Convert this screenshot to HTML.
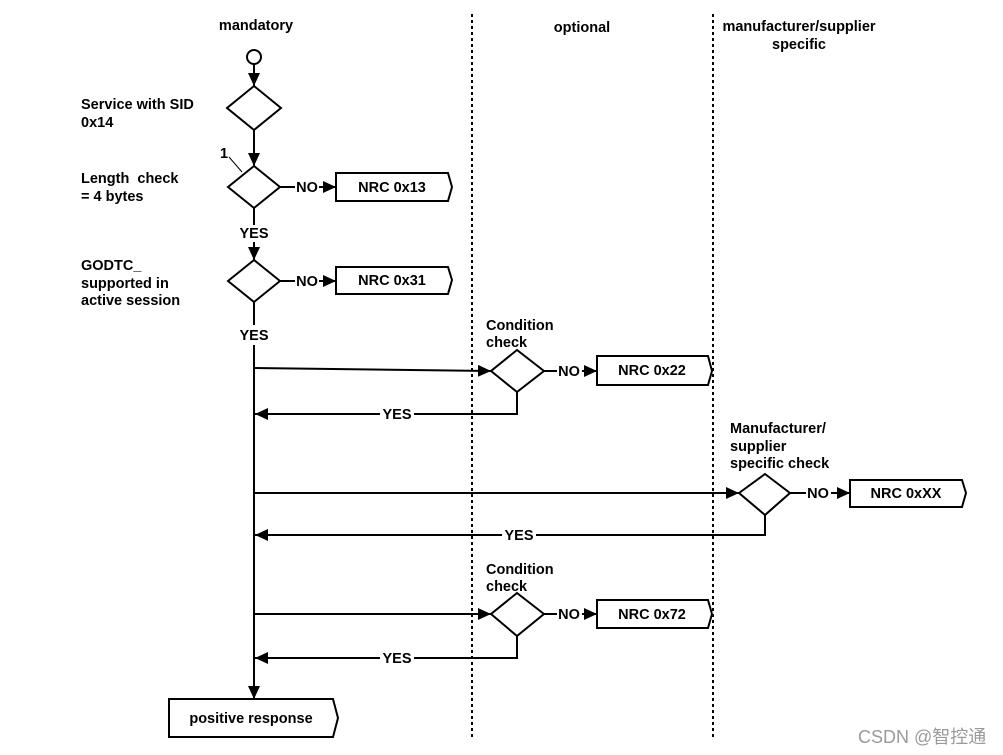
<!DOCTYPE html>
<html><head><meta charset="utf-8"><style>
html,body{margin:0;padding:0;background:#fff;}
svg{display:block;}
text{font-family:"Liberation Sans",Arial,sans-serif;font-weight:bold;font-size:14.5px;fill:#000;}
</style></head><body>
<svg width="1003" height="755" viewBox="0 0 1003 755" xmlns="http://www.w3.org/2000/svg">
<defs>
<marker id="b" markerWidth="14" markerHeight="14" refX="13" refY="6" orient="auto" markerUnits="userSpaceOnUse">
<path d="M0,0 L13,6 L0,12 z" fill="#000"/></marker>
</defs>
<g stroke="#000" stroke-width="2" fill="none">
<line x1="472" y1="14" x2="472" y2="737" stroke-dasharray="3,3" stroke-width="2"/>
<line x1="713" y1="14" x2="713" y2="737" stroke-dasharray="3,3" stroke-width="2"/>
<circle cx="254" cy="57" r="7" fill="#fff"/>
<line x1="254" y1="64" x2="254" y2="86" marker-end="url(#b)"/>
<polygon points="254,86 281,108 254,130 227,108" fill="#fff"/>
<line x1="254" y1="130" x2="254" y2="166" marker-end="url(#b)"/>
<polygon points="254,166 280,187 254,208 228,187" fill="#fff"/>
<line x1="254" y1="208" x2="254" y2="225"/>
<line x1="254" y1="242" x2="254" y2="260" marker-end="url(#b)"/>
<polygon points="254,260 280,281 254,302 228,281" fill="#fff"/>
<line x1="254" y1="302" x2="254" y2="325"/>
<line x1="254" y1="345" x2="254" y2="699" marker-end="url(#b)"/>
<line x1="280" y1="187" x2="295" y2="187"/>
<line x1="319" y1="187" x2="336" y2="187" marker-end="url(#b)"/>
<polygon points="336,173 448,173 452,187 448,201 336,201"/>
<line x1="280" y1="281" x2="295" y2="281"/>
<line x1="319" y1="281" x2="336" y2="281" marker-end="url(#b)"/>
<polygon points="336,267 448,267 452,280 448,294 336,294"/>
<line x1="229" y1="157" x2="242" y2="172" stroke-width="1"/>
<line x1="254" y1="368" x2="491" y2="371" marker-end="url(#b)"/>
<polygon points="517,350 544,371 517,392 491,371" fill="#fff"/>
<line x1="544" y1="371" x2="557" y2="371"/>
<line x1="582" y1="371" x2="597" y2="371" marker-end="url(#b)"/>
<polygon points="597,356 708,356 712,371 708,385 597,385"/>
<polyline points="517,392 517,414 414,414"/>
<line x1="380" y1="414" x2="255" y2="414" marker-end="url(#b)"/>
<line x1="254" y1="493" x2="739" y2="493" marker-end="url(#b)"/>
<polygon points="765,474 790,493 765,515 739,493" fill="#fff"/>
<line x1="790" y1="493" x2="806" y2="493"/>
<line x1="831" y1="493" x2="850" y2="493" marker-end="url(#b)"/>
<polygon points="850,480 962,480 966,493 962,507 850,507"/>
<polyline points="765,515 765,535 536,535"/>
<line x1="502" y1="535" x2="255" y2="535" marker-end="url(#b)"/>
<line x1="254" y1="614" x2="491" y2="614" marker-end="url(#b)"/>
<polygon points="517,593 544,614 517,636 491,614" fill="#fff"/>
<line x1="544" y1="614" x2="557" y2="614"/>
<line x1="582" y1="614" x2="597" y2="614" marker-end="url(#b)"/>
<polygon points="597,600 708,600 712,614 708,628 597,628"/>
<polyline points="517,636 517,658 414,658"/>
<line x1="380" y1="658" x2="255" y2="658" marker-end="url(#b)"/>
<polygon points="169,699 333,699 338,718 333,737 169,737"/>
</g>
<text x="256" y="30" text-anchor="middle">mandatory</text>
<text x="582" y="32" text-anchor="middle">optional</text>
<text x="799" y="31" text-anchor="middle">manufacturer/supplier</text>
<text x="799" y="49" text-anchor="middle">specific</text>
<text x="81" y="109">Service with SID</text>
<text x="81" y="127">0x14</text>
<text x="81" y="183" xml:space="preserve">Length  check</text>
<text x="81" y="201">= 4 bytes</text>
<text x="81" y="270">GODTC_</text>
<text x="81" y="288">supported in</text>
<text x="81" y="305">active session</text>
<text x="220" y="158" font-size="15">1</text>
<text x="307" y="192" text-anchor="middle">NO</text>
<text x="392" y="192" text-anchor="middle">NRC 0x13</text>
<text x="254" y="238" text-anchor="middle">YES</text>
<text x="307" y="286" text-anchor="middle">NO</text>
<text x="392" y="285" text-anchor="middle">NRC 0x31</text>
<text x="254" y="340" text-anchor="middle">YES</text>
<text x="486" y="330">Condition</text>
<text x="486" y="347">check</text>
<text x="569" y="376" text-anchor="middle">NO</text>
<text x="652" y="375" text-anchor="middle">NRC 0x22</text>
<text x="397" y="419" text-anchor="middle">YES</text>
<text x="730" y="433">Manufacturer/</text>
<text x="730" y="451">supplier</text>
<text x="730" y="468">specific check</text>
<text x="818" y="498" text-anchor="middle">NO</text>
<text x="906" y="498" text-anchor="middle">NRC 0xXX</text>
<text x="519" y="540" text-anchor="middle">YES</text>
<text x="486" y="574">Condition</text>
<text x="486" y="591">check</text>
<text x="569" y="619" text-anchor="middle">NO</text>
<text x="652" y="619" text-anchor="middle">NRC 0x72</text>
<text x="397" y="663" text-anchor="middle">YES</text>
<text x="251" y="723" text-anchor="middle">positive response</text>
<text x="858" y="743" style="font-family:'Liberation Sans','Noto Sans CJK SC',sans-serif;font-weight:normal;font-size:18px;fill:#9a9a9a">CSDN @智控通</text>
</svg>
</body></html>
